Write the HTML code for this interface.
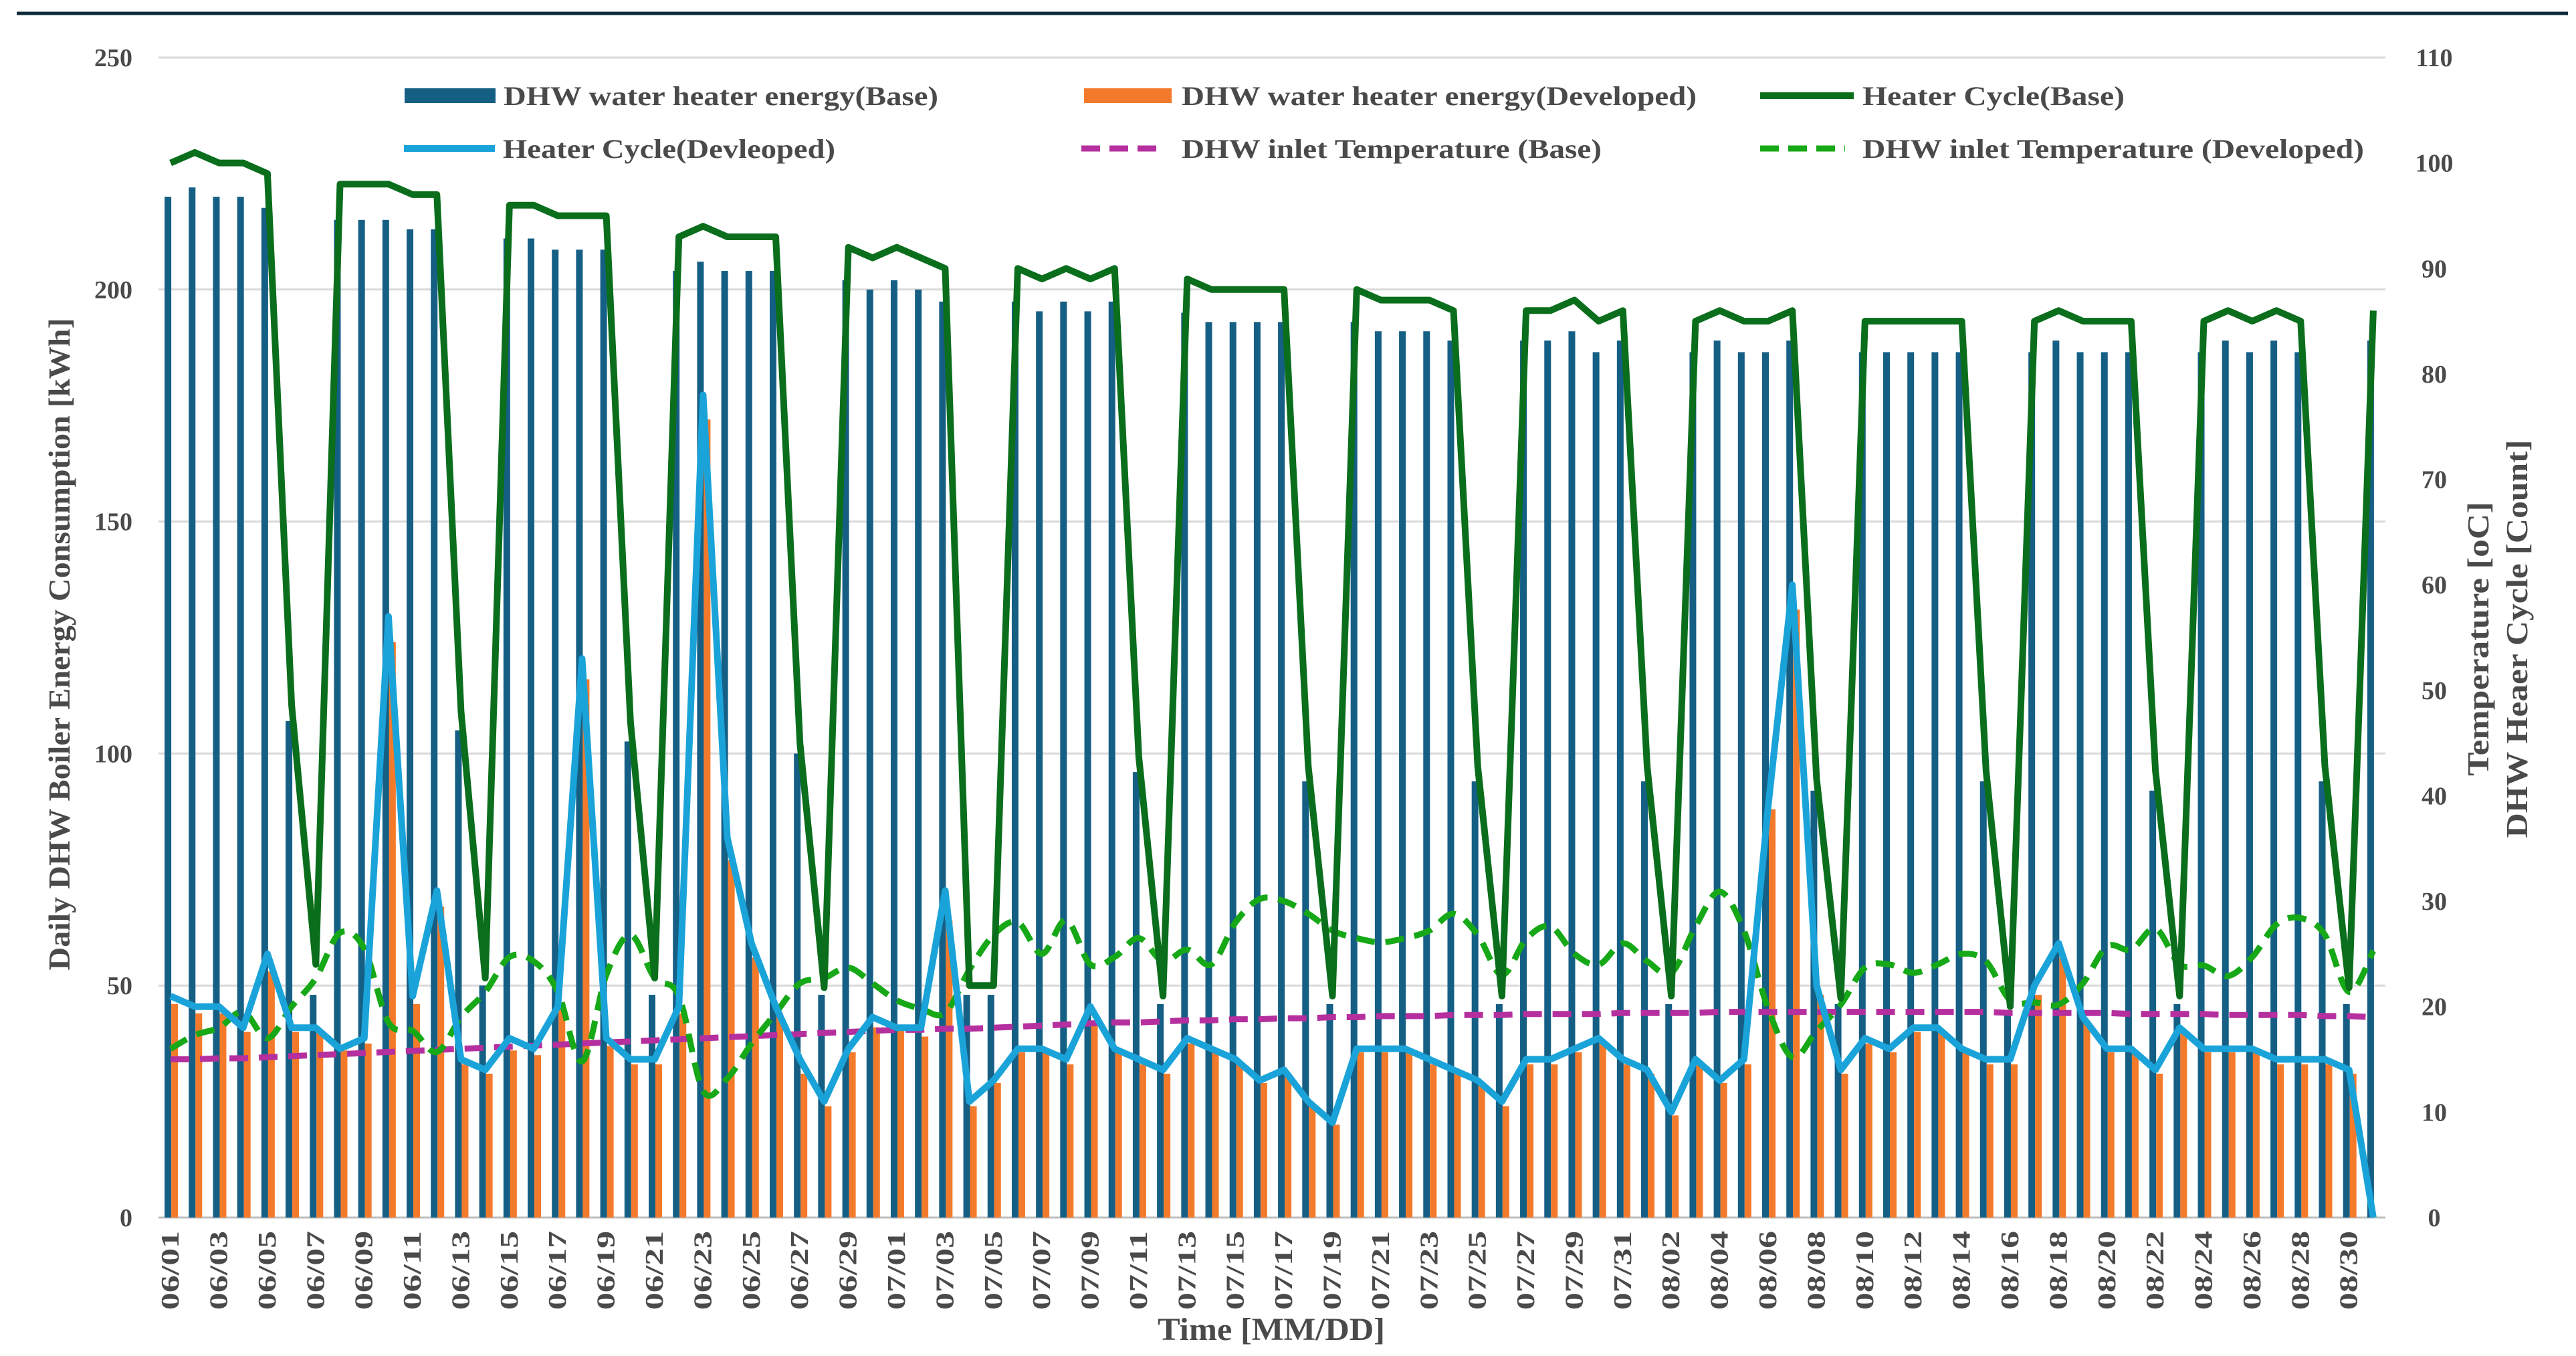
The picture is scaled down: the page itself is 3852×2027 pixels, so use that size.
<!DOCTYPE html>
<html><head><meta charset="utf-8">
<style>
html,body{margin:0;padding:0;background:#fff;}
svg{display:block;}
text{font-family:"Liberation Serif",serif;font-weight:bold;fill:#4a4a4a;}
</style></head>
<body>
<svg id="chart" width="3852" height="2027" viewBox="0 0 3852 2027" xmlns="http://www.w3.org/2000/svg">
<rect x="0" y="0" width="3852" height="2027" fill="#fff"/>
<line x1="25" y1="20" x2="3840" y2="20" stroke="#0d2a3a" stroke-width="5"/>
<g id="grid"></g>
<g id="bars"></g>
<g id="lines"></g>
<g id="axes"></g>
<g id="legend">
  <rect x="605" y="132" width="136" height="22" fill="#155f85"/>
  <text x="753" y="157" font-size="40" textLength="650" lengthAdjust="spacingAndGlyphs">DHW water heater energy(Base)</text>
  <rect x="1621" y="132" width="131" height="22" fill="#f47a2b"/>
  <text x="1767" y="157" font-size="40" textLength="770" lengthAdjust="spacingAndGlyphs">DHW water heater energy(Developed)</text>
  <line x1="2632" y1="143" x2="2772" y2="143" stroke="#0a6e1c" stroke-width="10"/>
  <text x="2785" y="157" font-size="40" textLength="392" lengthAdjust="spacingAndGlyphs">Heater Cycle(Base)</text>
  <line x1="604" y1="222" x2="740" y2="222" stroke="#1aa3d9" stroke-width="10"/>
  <text x="752" y="236" font-size="40" textLength="497" lengthAdjust="spacingAndGlyphs">Heater Cycle(Devleoped)</text>
  <line x1="1617" y1="222" x2="1742" y2="222" stroke="#b52f9e" stroke-width="9" stroke-dasharray="28,14"/>
  <text x="1767" y="236" font-size="40" textLength="628" lengthAdjust="spacingAndGlyphs">DHW inlet Temperature (Base)</text>
  <line x1="2632" y1="222" x2="2759" y2="222" stroke="#16a816" stroke-width="9" stroke-dasharray="28,14"/>
  <text x="2785" y="236" font-size="40" textLength="750" lengthAdjust="spacingAndGlyphs">DHW inlet Temperature (Developed)</text>
</g>
<text transform="translate(104,963) rotate(-90)" text-anchor="middle" font-size="46" textLength="975" lengthAdjust="spacingAndGlyphs">Daily DHW Boiler Energy Consumption [kWh]</text>
<text transform="translate(3721,955) rotate(-90)" text-anchor="middle" font-size="46" textLength="410" lengthAdjust="spacingAndGlyphs">Temperature [oC]</text>
<text transform="translate(3779,955) rotate(-90)" text-anchor="middle" font-size="46" textLength="595" lengthAdjust="spacingAndGlyphs">DHW Heaer Cycle [Count]</text>
<text x="1901" y="2003" text-anchor="middle" font-size="48" textLength="340" lengthAdjust="spacingAndGlyphs">Time [MM/DD]</text>
</svg>
<script>
const monthNames = ["06","07","08"];
const monthLengths = [30,31,31];
const leftTicks = [0,50,100,150,200,250];
const rightTicks = [0,10,20,30,40,50,60,70,80,90,100,110];
const baseEnergy = [220,222,220,220,217.6,107,48,215,215,215,213,213,105,50,211,211,208.6,208.6,208.6,102.6,48,204,206,204,204,204,100,48,202,200,
202,200,197.4,48,48,197.4,195.3,197.4,195.3,197.4,96,46,195,193,193,193,193,94,46,193,191,191,191,189,94,46,189,189,191,186.5,189,
94,46,186.5,189,186.5,186.5,189,92,46,186.5,186.5,186.5,186.5,186.5,94,44,186.5,189,186.5,186.5,186.5,92,46,186.5,189,186.5,189,186.5,94,46,189];
const devEnergy = [46,44,44,40,53,40,40,36,37.5,124,46,67,33,31,36,35,45,116,37,33,33,44,172,77,56,44,31,24,35.6,41,
41,39,64,24,29,35.6,35.6,33,42,35.6,33,31,37.5,35.6,33,29,31,24,20,35.6,35.6,35.6,33,31,29,24,33,33,35.6,37.5,33,
31,22,33,29,33,88,131,48,31,37.5,35.6,40,40,35.6,33,33,48,56,42,35.6,35.6,31,40,35.6,35.6,35.6,33,33,33,31,0];
const cycleBase = [100,101,100,100,99,48.6,24,98,98,98,97,97,48,22.7,96,96,95,95,95,47,22.7,93,94,93,93,93,45,21.8,92,91,
92,91,90,22,22,90,89,90,89,90,43.7,21,89,88,88,88,88,42.8,21,88,87,87,87,86,42.8,21,86,86,87,85,86,
42.8,21,85,86,85,85,86,41.6,20.8,85,85,85,85,85,42.4,20,85,86,85,85,85,42.4,21,85,86,85,86,85,42.8,21.8,86];
const cycleDev = [21,20,20,18,25,18,18,16,17,57,21,31,15,14,17,16,20,53,17,15,15,20,78,36,26,20,15,11,16,19,
18,18,31,11,13,16,16,15,20,16,15,14,17,16,15,13,14,11,9,16,16,16,15,14,13,11,15,15,16,17,15,
14,10,15,13,15,39,60,22,14,17,16,18,18,16,15,15,22,26,19,16,16,14,18,16,16,16,15,15,15,14,0];
const inletBase = [15.0,15.0,15.1,15.1,15.2,15.3,15.4,15.5,15.6,15.7,15.8,15.9,16.0,16.1,16.2,16.3,16.4,16.5,16.6,16.7,16.8,16.9,17.0,17.1,17.2,17.3,17.4,17.5,17.6,17.7,
17.8,17.8,17.9,17.9,18.0,18.1,18.2,18.3,18.4,18.5,18.5,18.6,18.7,18.7,18.8,18.8,18.9,18.9,19.0,19.0,19.1,19.1,19.1,19.2,19.2,19.2,19.3,19.3,19.3,19.3,19.4,
19.4,19.4,19.4,19.5,19.5,19.5,19.5,19.5,19.5,19.5,19.5,19.5,19.5,19.5,19.5,19.4,19.4,19.4,19.4,19.4,19.3,19.3,19.3,19.3,19.2,19.2,19.2,19.2,19.1,19.1,19.0];
const inletDev = [16,17.3,18,19.5,17,20,22.7,27,25.5,18.5,17.7,15.7,19,21.4,24.7,24.3,21.4,14.8,23,26.8,22.7,21,12,13.2,16.5,19.4,22.2,22.7,23.7,22.2,
20.6,19.8,19.4,23.5,26.8,28,25,28.2,24,24.7,26.5,24.3,25.4,24,28,30.2,30,28.8,27.2,26.5,26.1,26.5,27.2,28.8,26.8,23,26.4,27.6,25,24,26,
24.3,23.2,27.6,30.9,27.2,19.8,15.2,17.7,20.2,23.7,24,23.2,24,25,24.3,20.6,20.4,20.2,22.2,25.7,25.4,27.4,24,23.9,22.9,24.7,27.8,28.4,26.8,21.4,25.3];

const categories = [];
for (let m = 0; m < monthNames.length; m++) {
  for (let d = 1; d <= monthLengths[m]; d++) categories.push(monthNames[m] + "/" + String(d).padStart(2, "0"));
}

const NS = "http://www.w3.org/2000/svg";
const PL = 237, PR = 3567, PT = 86, PB = 1820;
const n = categories.length;
const step = (PR - PL) / n;
const xC = i => PL + step * (i + 0.5);
const yL = v => PB - (v / 250) * (PB - PT);
const yR = v => PB - (v / 110) * (PB - PT);
function mk(tag, attrs, parent) {
  const e = document.createElementNS(NS, tag);
  for (const k in attrs) e.setAttribute(k, attrs[k]);
  parent.appendChild(e);
  return e;
}
const grid = document.getElementById("grid");
const bars = document.getElementById("bars");
const lines = document.getElementById("lines");
const axes = document.getElementById("axes");

leftTicks.forEach(t => {
  const g = mk("line", {x1: PL, x2: PR, y1: yL(t), y2: yL(t), stroke: t === 0 ? "#bfbfbf" : "#d9d9d9", "stroke-width": 3}, grid);
  
  
  const tx = mk("text", {x: 198, y: yL(t) + 13, "text-anchor": "end", "font-size": 38}, axes);
  tx.textContent = t;
  
  
});
rightTicks.forEach(t => {
  const tx = mk("text", {x: 3640, y: yR(t) + 13, "text-anchor": "middle", "font-size": 38}, axes);
  tx.textContent = t;
  
  
});
categories.forEach((c, i) => {
  if (i % 2 !== 0) return;
  const x = xC(i) + 12;
  const tx = mk("text", {transform: "translate(" + x + ",1840) rotate(-90)", "text-anchor": "end", "font-size": 38, textLength: 118, lengthAdjust: "spacingAndGlyphs"}, axes);
  tx.textContent = c;
  
  
});

baseEnergy.forEach((v, i) => {
  const r = mk("rect", {x: xC(i) - 9, y: yL(v), width: 10, height: PB - yL(v), fill: "#155f85"}, bars);
  
  
});
devEnergy.forEach((v, i) => {
  const r = mk("rect", {x: xC(i) + 1, y: yL(v), width: 10, height: PB - yL(v), fill: "#f47a2b"}, bars);
  
  
});

function straight(arr) {
  return arr.map((v, i) => (i ? "L" : "M") + xC(i).toFixed(1) + "," + yR(v).toFixed(1)).join(" ");
}
function smooth(arr) {
  const p = arr.map((v, i) => [xC(i), yR(v)]);
  let d = "M" + p[0][0] + "," + p[0][1];
  for (let i = 0; i < p.length - 1; i++) {
    const p0 = p[i - 1] || p[i], p1 = p[i], p2 = p[i + 1], p3 = p[i + 2] || p2;
    const c1x = p1[0] + (p2[0] - p0[0]) / 6, c1y = p1[1] + (p2[1] - p0[1]) / 6;
    const c2x = p2[0] - (p3[0] - p1[0]) / 6, c2y = p2[1] - (p3[1] - p1[1]) / 6;
    d += " C" + c1x.toFixed(1) + "," + c1y.toFixed(1) + " " + c2x.toFixed(1) + "," + c2y.toFixed(1) + " " + p2[0].toFixed(1) + "," + p2[1].toFixed(1);
  }
  return d;
}
const l1 = mk("path", {d: straight(inletBase), fill: "none", stroke: "#b52f9e", "stroke-width": 9, "stroke-dasharray": "28,16"}, lines);


const l2 = mk("path", {d: smooth(inletDev), fill: "none", stroke: "#16a816", "stroke-width": 9, "stroke-dasharray": "28,16"}, lines);


const l3 = mk("path", {d: straight(cycleBase), fill: "none", stroke: "#0a6e1c", "stroke-width": 10, "stroke-linejoin": "round"}, lines);


const l4 = mk("path", {d: straight(cycleDev), fill: "none", stroke: "#1aa3d9", "stroke-width": 10, "stroke-linejoin": "round"}, lines);


</script>
</body></html>
